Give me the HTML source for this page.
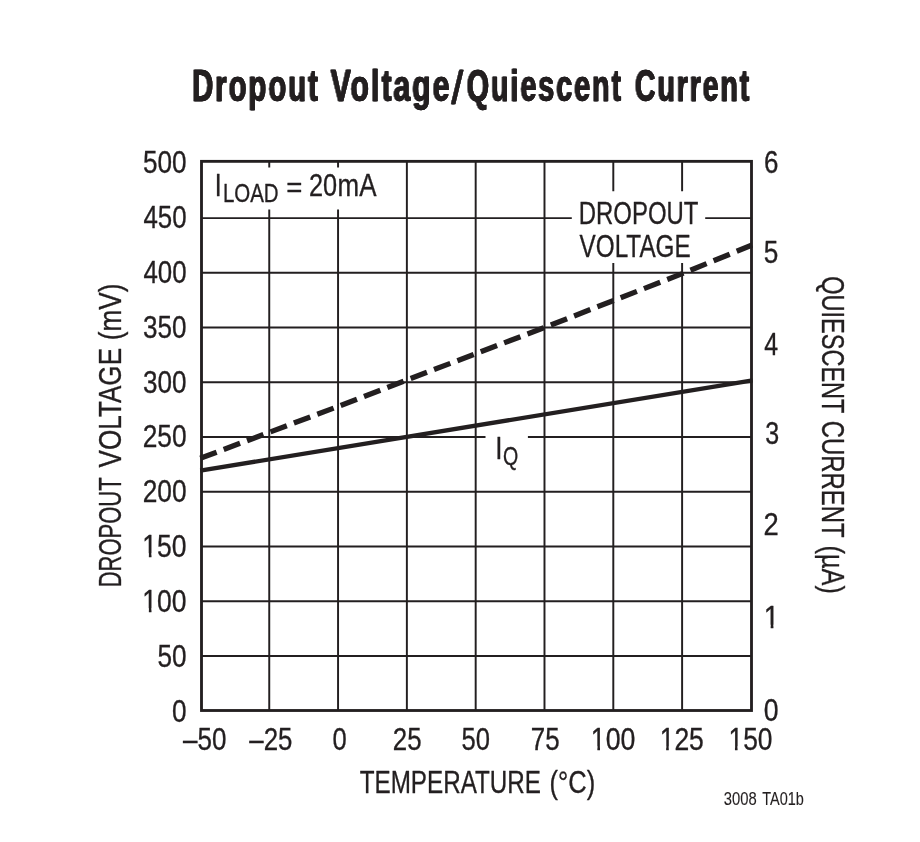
<!DOCTYPE html>
<html><head><meta charset="utf-8"><title>Dropout Voltage/Quiescent Current</title>
<style>
html,body{margin:0;padding:0;background:#fff;}
svg{display:block;}
text{font-family:"Liberation Sans",sans-serif;fill:#231f20;}
</style></head><body>
<svg width="920" height="842" viewBox="0 0 920 842">
<defs><clipPath id="c1"><path d="M-10 -40H400V-3.7H-10Z M7.9 -3.7H11V5H7.9Z M17.5 -3.7H400V10H17.5Z"/></clipPath></defs>
<rect width="920" height="842" fill="#fff"/>
<path d="M269.25 161.35L269.25 167.50M269.25 209.40L269.25 710.50M338.06 161.35L338.06 167.50M338.06 209.40L338.06 710.50M406.87 161.35L406.87 710.50M475.68 161.35L475.68 710.50M544.49 161.35L544.49 710.50M613.30 161.35L613.30 191.20M613.30 263.10L613.30 710.50M682.11 161.35L682.11 191.20M682.11 263.10L682.11 710.50M201.50 218.10L571.80 218.10M705.20 218.10L751.50 218.10M201.50 272.83L751.50 272.83M201.50 327.56L751.50 327.56M201.50 382.29L751.50 382.29M201.50 437.02L485.50 437.02M527.90 437.02L751.50 437.02M201.50 491.75L751.50 491.75M201.50 546.48L751.50 546.48M201.50 601.21L751.50 601.21M201.50 655.94L751.50 655.94" stroke="#231f20" stroke-width="1.95" fill="none"/>
<rect x="201.5" y="161.35" width="550.0" height="549.15" fill="none" stroke="#231f20" stroke-width="2.85"/>
<path d="M200.2 470.6L752.6 380.4" stroke="#231f20" stroke-width="4.25" fill="none"/>
<path d="M200.30 458.30L338.00 406.50L407.00 379.90L544.50 327.50L682.90 273.40L752.10 245.00" stroke="#231f20" stroke-width="5.3" stroke-dasharray="17.45 7.55" fill="none"/>
<g stroke="#231f20" stroke-width="0.35" stroke-linejoin="round">
<text transform="translate(192.53,100.60) scale(0.6527,1)" font-size="44.65" font-weight="bold" stroke="#231f20" stroke-width="0.3" style="filter:drop-shadow(0.8px 0 0 #231f20) drop-shadow(-0.8px 0 0 #231f20)" letter-spacing="3.149">Dropout</text>
<text transform="translate(330.97,100.60) scale(0.6777,1)" font-size="44.65" font-weight="bold" stroke="#231f20" stroke-width="0.3" style="filter:drop-shadow(0.8px 0 0 #231f20) drop-shadow(-0.8px 0 0 #231f20)" letter-spacing="2.892">Voltage</text>
<text transform="translate(452.10,103.63) scale(0.9200,1.0451)" font-size="44.65" stroke="#231f20" stroke-width="0.3" style="filter:drop-shadow(0.8px 0 0 #231f20) drop-shadow(-0.8px 0 0 #231f20)">/</text>
<text transform="translate(467.05,100.60) scale(0.6439,1)" font-size="44.65" font-weight="bold" stroke="#231f20" stroke-width="0.3" style="filter:drop-shadow(0.8px 0 0 #231f20) drop-shadow(-0.8px 0 0 #231f20)" letter-spacing="2.966">Quiescent</text>
<text transform="translate(635.36,100.60) scale(0.6374,1)" font-size="44.65" font-weight="bold" stroke="#231f20" stroke-width="0.3" style="filter:drop-shadow(0.8px 0 0 #231f20) drop-shadow(-0.8px 0 0 #231f20)" letter-spacing="2.942">Current</text>
<text transform="translate(142.95,173.25) scale(0.8156,1)" font-size="32.08">500</text>
<text transform="translate(143.42,228.08) scale(0.8068,1)" font-size="32.08">450</text>
<text transform="translate(143.42,282.91) scale(0.8068,1)" font-size="32.08">400</text>
<text transform="translate(143.02,337.74) scale(0.8144,1)" font-size="32.08">350</text>
<text transform="translate(143.02,392.57) scale(0.8144,1)" font-size="32.08">300</text>
<text transform="translate(142.68,447.40) scale(0.8208,1)" font-size="32.08">250</text>
<text transform="translate(142.68,502.23) scale(0.8208,1)" font-size="32.08">200</text>
<text transform="translate(142.35,557.06) scale(0.8272,1)" font-size="32.08" clip-path="url(#c1)">150</text>
<text transform="translate(142.35,611.89) scale(0.8272,1)" font-size="32.08" clip-path="url(#c1)">100</text>
<text transform="translate(157.55,666.72) scale(0.8152,1)" font-size="32.08">50</text>
<text transform="translate(172.05,721.55) scale(0.8161,1)" font-size="32.08">0</text>
<text transform="translate(764.10,172.90) scale(0.8089,1)" font-size="32.08">6</text>
<text transform="translate(763.80,262.70) scale(0.8171,1)" font-size="32.08">5</text>
<text transform="translate(764.14,355.20) scale(0.7778,1)" font-size="32.08">4</text>
<text transform="translate(765.16,444.30) scale(0.7810,1)" font-size="32.08">3</text>
<text transform="translate(763.48,535.40) scale(0.8530,1)" font-size="32.08">2</text>
<text transform="translate(763.82,628.40) scale(0.8700,1)" font-size="32.08" clip-path="url(#c1)">1</text>
<text transform="translate(763.84,721.10) scale(0.8291,1)" font-size="32.08">0</text>
<text transform="translate(183.00,750.00) scale(0.8109,1)" font-size="32.08">–50</text>
<text transform="translate(249.30,750.00) scale(0.8064,1)" font-size="32.08">–25</text>
<text transform="translate(332.58,750.00) scale(0.7965,1)" font-size="32.08">0</text>
<text transform="translate(392.81,750.00) scale(0.8069,1)" font-size="32.08">25</text>
<text transform="translate(461.58,750.00) scale(0.7971,1)" font-size="32.08">50</text>
<text transform="translate(530.84,750.00) scale(0.8089,1)" font-size="32.08">75</text>
<text transform="translate(590.83,750.00) scale(0.8333,1)" font-size="32.08" clip-path="url(#c1)">100</text>
<text transform="translate(659.65,750.00) scale(0.8265,1)" font-size="32.08" clip-path="url(#c1)">125</text>
<text transform="translate(728.46,750.00) scale(0.8232,1)" font-size="32.08" clip-path="url(#c1)">150</text>
<text transform="translate(359.65,793.00) scale(0.7541,1)" font-size="32.15">TEMPERATURE</text>
<text transform="translate(549.61,793.00) scale(0.7934,1)" font-size="32.15">(°C)</text>
<text transform="translate(121.10,587.32) rotate(-90) scale(0.6876,1)" font-size="32.00">DROPOUT</text>
<text transform="translate(121.10,467.43) rotate(-90) scale(0.8165,1)" font-size="32.00">VOLTAGE</text>
<text transform="translate(121.10,340.24) rotate(-90) scale(0.8180,1)" font-size="32.00">(mV)</text>
<text transform="translate(822.10,276.18) rotate(90) scale(0.7359,1)" font-size="32.00">QUIESCENT</text>
<text transform="translate(822.10,420.80) rotate(90) scale(0.7470,1)" font-size="32.00">CURRENT</text>
<text transform="translate(822.10,545.52) rotate(90) scale(0.7907,1)" font-size="32.00">(µA)</text>
<text transform="translate(214.70,196.00) scale(0.7878,1)" font-size="31.56">I</text>
<text transform="translate(222.91,201.80) scale(0.7737,1)" font-size="26.47">LOAD</text>
<text transform="translate(286.22,196.87) scale(0.8753,0.8645)" font-size="31.56">=</text>
<text transform="translate(309.03,196.00) scale(0.8006,1)" font-size="31.64">20</text>
<text transform="translate(337.55,196.00) scale(0.8220,1)" font-size="31.56">mA</text>
<text transform="translate(578.83,223.75) scale(0.7650,1)" font-size="31.27">DROPOUT</text>
<text transform="translate(579.58,256.85) scale(0.7769,1)" font-size="31.27">VOLTAGE</text>
<text transform="translate(495.35,458.70) scale(0.8297,1)" font-size="31.27">I</text>
<text transform="translate(503.07,464.60) scale(0.7781,1)" font-size="25.23">Q</text>
<text transform="translate(723.75,804.90) scale(0.8250,1)" font-size="17.93" stroke-width="0.12">3008</text>
<text transform="translate(762.27,804.90) scale(0.8083,1)" font-size="17.93" stroke-width="0.12">TA01b</text>
</g>
</svg>
</body></html>
